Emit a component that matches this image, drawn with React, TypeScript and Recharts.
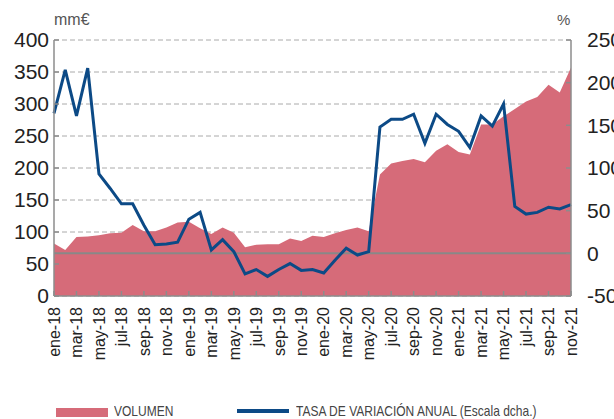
import React from 'react';
import { ComposedChart, Area, Line, XAxis, YAxis, CartesianGrid, ReferenceLine } from 'recharts';

const months = [
  'ene-18', 'feb-18', 'mar-18', 'abr-18', 'may-18', 'jun-18', 'jul-18', 'ago-18', 'sep-18', 'oct-18', 'nov-18', 'dic-18',
  'ene-19', 'feb-19', 'mar-19', 'abr-19', 'may-19', 'jun-19', 'jul-19', 'ago-19', 'sep-19', 'oct-19', 'nov-19', 'dic-19',
  'ene-20', 'feb-20', 'mar-20', 'abr-20', 'may-20', 'jun-20', 'jul-20', 'ago-20', 'sep-20', 'oct-20', 'nov-20', 'dic-20',
  'ene-21', 'feb-21', 'mar-21', 'abr-21', 'may-21', 'jun-21', 'jul-21', 'ago-21', 'sep-21', 'oct-21', 'nov-21',
];

// mm€
const volumen = [
  82, 72, 92, 93, 95, 98, 99, 111, 101, 101, 107, 115,
  116, 106, 97, 107, 99, 76, 80, 81, 81, 90, 86, 94,
  92, 98, 103, 107, 101, 190, 207, 211, 214, 209, 227, 237,
  225, 221, 268, 268, 281, 292, 304, 311, 330, 318, 357,
];

// % (escala dcha.)
const tasa = [
  164, 215, 161, 217, 93, 76, 58, 58, 33, 10, 11, 13,
  40, 48, 4, 16, 2, -24, -19, -27, -19, -12, -20, -19,
  -23, -8, 6, -2, 2, 148, 157, 157, 163, 129, 163, 151,
  143, 124, 161, 149, 175, 55, 46, 48, 54, 52, 57,
];

const xTicks = months.filter((_, i) => i % 2 === 0);
const leftTicks = [0, 50, 100, 150, 200, 250, 300, 350, 400];
const rightTicks = [-50, 0, 50, 100, 150, 200, 250];

const data = months.map((m, i) => ({ month: m, volumen: volumen[i], tasa: tasa[i] }));

const FONT = '"Liberation Sans", Arial, sans-serif';
const AXIS = '#8c8c8c';
const PINK = '#d66b79';
const BLUE = '#0c4a86';

const MonthTick = (props: any) => {
  const { x, y, payload } = props;
  return (
    <text
      x={x}
      y={y}
      transform={`rotate(-90, ${x}, ${y})`}
      textAnchor="end"
      dy="0.36em"
      fontSize={16}
      fontFamily={FONT}
      fill="#222"
    >
      {payload.value}
    </text>
  );
};

const legendText: React.CSSProperties = {
  position: 'absolute',
  top: 403,
  fontSize: 15,
  lineHeight: '16px',
  color: '#444',
  fontFamily: FONT,
  whiteSpace: 'nowrap',
  transform: 'scaleX(0.8)',
  transformOrigin: 'left center',
};

export default function App() {
  return (
    <div style={{ position: 'absolute', left: 0, top: 0, width: 614, height: 419, background: '#fff', overflow: 'hidden' }}>
      <ComposedChart width={614} height={419} data={data} margin={{ top: 40, right: 0, left: 0, bottom: 53 }}>
        <CartesianGrid yAxisId="left" vertical={false} stroke="#aaa" strokeDasharray="5 3" />
        <XAxis
          dataKey="month"
          scale="point"
          padding={{ left: 0, right: 0 }}
          ticks={xTicks}
          interval={0}
          height={70}
          stroke={AXIS}
          strokeWidth={1.5}
          tickSize={-5}
          tickMargin={16}
          tick={<MonthTick />}
        />
        <YAxis
          yAxisId="left"
          domain={[0, 400]}
          ticks={leftTicks}
          width={54}
          stroke={AXIS}
          strokeWidth={1.5}
          tickSize={-5}
          tickMargin={10}
          tick={{ fontSize: 21, fill: '#222', fontFamily: FONT }}
        />
        <YAxis
          yAxisId="right"
          orientation="right"
          domain={[-50, 250]}
          ticks={rightTicks}
          width={43}
          stroke={AXIS}
          strokeWidth={1.5}
          tickSize={-5}
          tickMargin={21}
          tick={{ fontSize: 21, fill: '#222', fontFamily: FONT }}
        />
        <Area
          yAxisId="left"
          type="linear"
          dataKey="volumen"
          stroke="none"
          fill={PINK}
          fillOpacity={1}
          isAnimationActive={false}
        />
        <ReferenceLine yAxisId="right" y={0} stroke="#888" strokeWidth={2} />
        <Line
          yAxisId="right"
          type="linear"
          dataKey="tasa"
          stroke={BLUE}
          strokeWidth={3}
          dot={false}
          isAnimationActive={false}
        />
      </ComposedChart>
      <div style={{ position: 'absolute', left: 54, top: 11, fontSize: 16, color: '#555', fontFamily: FONT }}>mm€</div>
      <div style={{ position: 'absolute', left: 557, top: 11, fontSize: 15, color: '#555', fontFamily: FONT }}>%</div>
      <div style={{ position: 'absolute', left: 56, top: 408, width: 52, height: 9, background: PINK }} />
      <div style={{ ...legendText, left: 114 }}>VOLUMEN</div>
      <div style={{ position: 'absolute', left: 237, top: 409, width: 52, height: 3.5, background: BLUE }} />
      <div style={{ ...legendText, left: 296 }}>TASA DE VARIACIÓN ANUAL (Escala dcha.)</div>
    </div>
  );
}
